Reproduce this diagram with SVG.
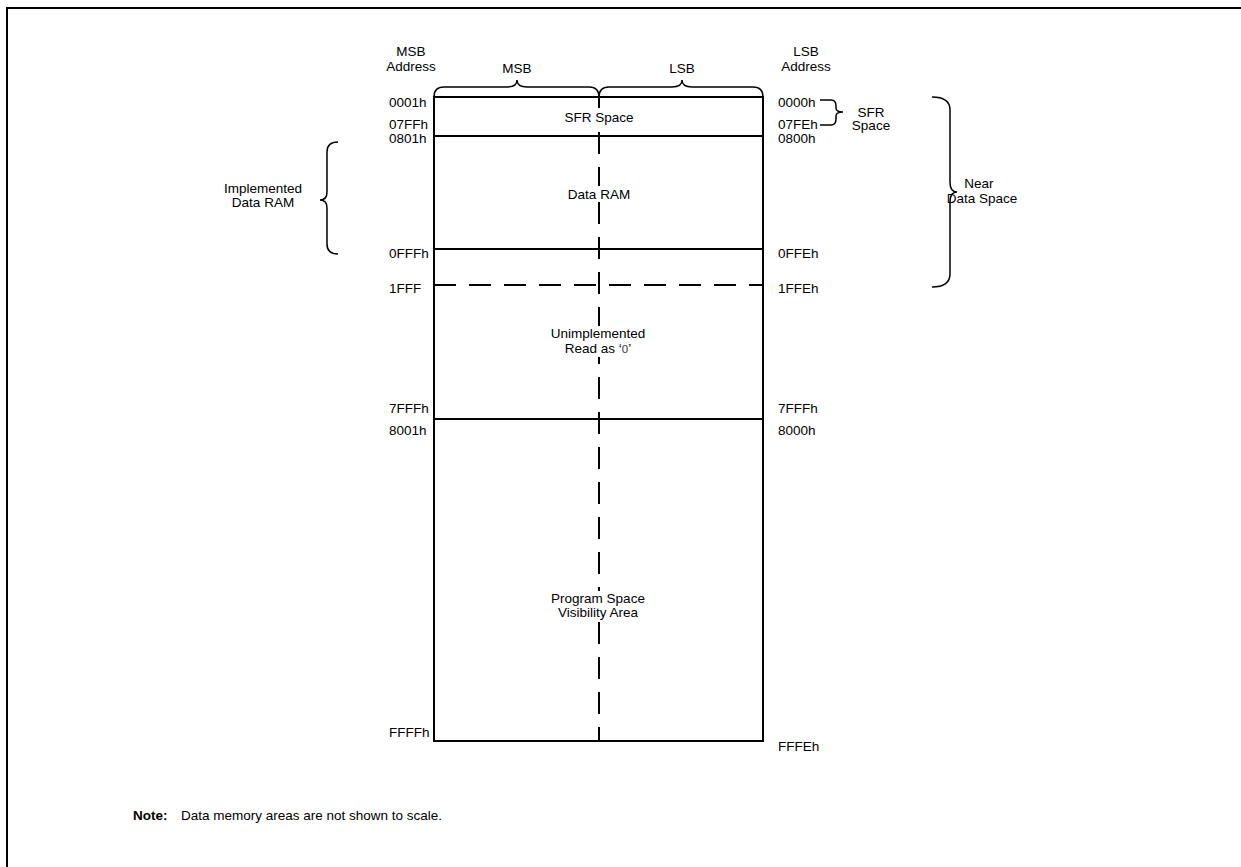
<svg xmlns="http://www.w3.org/2000/svg" width="1241" height="867" viewBox="0 0 1241 867">
<style>
text{font-family:"Liberation Sans",Arial,sans-serif;font-size:13.5px;fill:#000}
.c{text-anchor:middle}
.ln{stroke:#000;stroke-width:2;fill:none}
.br{stroke:#000;stroke-width:1.5;fill:none}
.dash{stroke:#000;stroke-width:2;stroke-dasharray:22 13;fill:none}
.mask{fill:#fff}
</style>
<rect width="1241" height="867" fill="#fff"/>
<path d="M7,1000 V8 H1300" class="ln" stroke-width="3"/>
<g id="memory-map">
<rect x="434" y="97" width="329" height="644" class="ln"/>
<line x1="434" y1="136" x2="763" y2="136" class="ln"/>
<line x1="434" y1="249" x2="763" y2="249" class="ln"/>
<line x1="434" y1="419" x2="763" y2="419" class="ln"/>
<line x1="434" y1="285" x2="763" y2="285" class="dash"/>
<line x1="599" y1="97" x2="599" y2="741" class="dash"/>
</g>
<g id="area-labels">
<rect x="563" y="108" width="72" height="22" class="mask"/>
<text x="599" y="122" class="c">SFR Space</text>
<rect x="568" y="186" width="62" height="16" class="mask"/>
<text x="599" y="199" class="c">Data RAM</text>
<rect x="553" y="326" width="92" height="31" class="mask"/>
<text x="598" y="338" class="c">Unimplemented</text>
<text x="598" y="353" class="c">Read as ‘<tspan font-size="11.5" fill="#333">0</tspan>’</text>
<rect x="550" y="591" width="98" height="30" class="mask"/>
<text x="598" y="603" class="c">Program Space</text>
<text x="598" y="617" class="c">Visibility Area</text>
</g>
<g id="headers">
<text x="411" y="56" class="c">MSB</text>
<text x="411" y="71" class="c">Address</text>
<text x="806" y="56" class="c">LSB</text>
<text x="806" y="71" class="c">Address</text>
<text x="517" y="73" class="c">MSB</text>
<text x="682" y="73" class="c">LSB</text>
<path d="M434,97 Q434,87 444,87 H507 Q517,87 517,80 Q517,87 527,87 H589 Q599,87 599,97" class="br"/>
<path d="M599,97 Q599,87 609,87 H672 Q682,87 682,80 Q682,87 692,87 H753 Q763,87 763,97" class="br"/>
</g>
<g id="msb-addresses">
<text x="389" y="107">0001h</text>
<text x="389" y="129">07FFh</text>
<text x="389" y="142.5">0801h</text>
<text x="389" y="258">0FFFh</text>
<text x="389" y="293">1FFF</text>
<text x="389" y="413">7FFFh</text>
<text x="389" y="435">8001h</text>
<text x="389" y="737">FFFFh</text>
</g>
<g id="lsb-addresses">
<text x="778" y="107">0000h</text>
<text x="778" y="129">07FEh</text>
<text x="778" y="142.5">0800h</text>
<text x="778" y="258">0FFEh</text>
<text x="778" y="293">1FFEh</text>
<text x="778" y="413">7FFFh</text>
<text x="778" y="435">8000h</text>
<text x="778" y="751">FFFEh</text>
</g>
<g id="sfr-space-brace">
<path d="M820,100 H831 Q836,100 836,106 V108 Q836,112 843,112 Q836,112 836,116 V119 Q836,125 831,125 H820" class="br"/>
<text x="871" y="117" class="c">SFR</text>
<text x="871" y="130" class="c">Space</text>
</g>
<g id="near-data-space-brace">
<path d="M932,97 Q950,97 950,110 V182 Q950,192 957,192 Q950,192 950,202 V274 Q950,287 932,287" class="br"/>
<text x="979" y="188" class="c">Near</text>
<text x="982" y="203" class="c">Data  Space</text>
</g>
<g id="implemented-ram-brace">
<path d="M338,142 Q327,142 327,152 V192 Q327,200 320,200 Q327,200 327,208 V244 Q327,254 338,254" class="br"/>
<text x="263" y="193" class="c">Implemented</text>
<text x="263" y="207" class="c">Data RAM</text>
</g>
<g id="note">
<text x="133" y="820" font-weight="bold">Note:</text>
<text x="181" y="820">Data memory areas are not shown to scale.</text>
</g>
</svg>
